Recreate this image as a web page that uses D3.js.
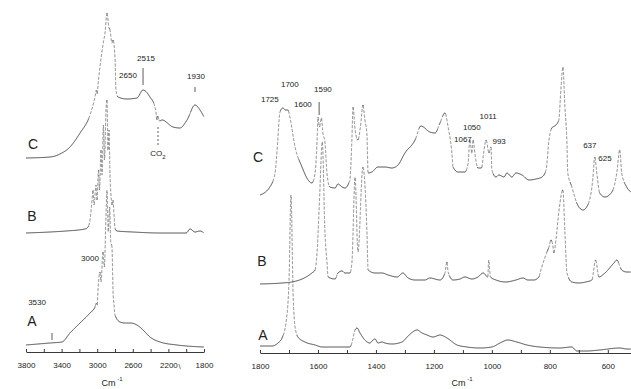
<!DOCTYPE html>
<html lang="en">
<head>
  <meta charset="UTF-8">
  <title>IR spectra A, B, C</title>
  <style>
    body { margin: 0; background: #fff; }
    svg { font-family: "Liberation Sans", Arial, sans-serif; }
    .trace { fill: none; stroke: #333; stroke-width: 0.9px; stroke-linejoin: round; }
    .trace.steep { stroke: #666; stroke-width: 0.8px; stroke-dasharray: 3,1.6; }
    .axis path, .axis line { stroke: #222; stroke-width: 0.9px; }
    .axis text { font-size: 8px; fill: #222; }
    .note { font-size: 8px; fill: #222; text-anchor: middle; dominant-baseline: middle; }
    .letter { font-size: 14px; fill: #222; text-anchor: middle; dominant-baseline: middle; }
    .mark { stroke: #333; stroke-width: 0.8px; }
  </style>
</head>
<body>
  <script src="https://d3js.org/d3.v7.min.js"></script>
  <script>
    // spectra as [wavenumber, absorbance (arbitrary units incl. stacking offset)]
    const leftC = [
      [3800,194],[3530,195],[3418,198],[3306,205],[3193,219],[3081,237],[3025,255],
      [3010,262],[3000,258],[2990,268],[2969,285],[2930,310],[2912,319],[2890,339],
      [2870,325],[2856,322],[2834,309],[2822,312],[2800,294],[2789,262],[2766,255],
      [2665,253],[2553,254],[2485,262],[2407,255],[2351,245],[2340,240],[2330,232],
      [2320,236],[2300,231],[2272,232],[2148,225],[2070,224],[1991,232],[1901,247],
      [1845,242],[1800,235]
    ];
    const leftB = [
      [3800,119],[3530,120],[3350,121],[3137,123],[3103,125],[3081,132],[3058,152],
      [3047,162],[3036,147],[3013,167],[3002,152],[2985,182],[2974,162],[2957,202],
      [2946,177],[2930,227],[2918,192],[2901,242],[2890,252],[2879,202],[2867,222],
      [2856,177],[2845,157],[2834,147],[2822,152],[2811,137],[2800,124],[2778,121],
      [2600,120],[2300,119],[2000,119],[1957,123],[1901,120],[1845,121],[1800,119]
    ];
    const leftA = [
      [3800,7],[3530,9],[3396,10],[3306,19],[3193,29],[3081,39],[3025,45],[3010,49],
      [3000,47],[2991,62],[2969,80],[2957,70],[2935,100],[2920,85],[2900,140],
      [2890,162],[2875,120],[2860,145],[2848,110],[2834,105],[2822,60],[2811,47],
      [2800,37],[2744,30],[2688,29],[2631,29],[2553,27],[2485,22],[2407,15],
      [2294,10],[2103,7],[1800,5]
    ];

    const rightC = [
      [1800,157],[1766,165],[1748,179],[1741,202],[1731,240],[1721,244],[1712,242],
      [1704,242],[1695,232],[1679,205],[1655,185],[1634,172],[1621,169],[1610,179],
      [1603,212],[1600,235],[1595,225],[1588,234],[1583,219],[1576,210],[1569,179],
      [1559,165],[1541,164],[1531,168],[1517,165],[1507,164],[1490,172],[1483,212],
      [1479,245],[1472,222],[1462,212],[1452,229],[1445,247],[1438,232],[1431,217],
      [1427,179],[1414,180],[1393,185],[1369,185],[1345,184],[1324,187],[1300,199],
      [1265,212],[1245,226],[1214,220],[1196,219],[1179,229],[1162,239],[1151,225],
      [1138,199],[1134,185],[1117,180],[1093,180],[1082,189],[1076,212],[1069,199],
      [1065,212],[1058,197],[1048,184],[1036,184],[1027,202],[1020,212],[1010,199],
      [1003,205],[1000,182],[986,175],[976,177],[958,175],[948,179],[931,175],
      [917,179],[896,177],[872,172],[848,173],[827,175],[813,182],[803,212],
      [793,224],[779,227],[769,232],[762,262],[755,285],[748,245],[741,209],
      [738,179],[724,165],[707,149],[686,142],[669,147],[652,172],[645,195],
      [638,179],[628,159],[610,155],[586,160],[569,179],[559,202],[552,179],[535,165],
      [520,160]
    ];
    const rightB = [
      [1800,68],[1724,69],[1690,70],[1655,73],[1621,79],[1610,82],[1603,100],
      [1595,150],[1585,210],[1576,120],[1569,90],[1565,75],[1541,73],[1531,79],
      [1517,81],[1507,79],[1490,79],[1483,89],[1472,175],[1462,100],[1445,185],
      [1431,120],[1427,82],[1403,79],[1379,79],[1358,77],[1327,75],[1307,79],
      [1289,74],[1265,72],[1231,72],[1214,74],[1179,72],[1162,79],[1155,90],
      [1151,80],[1134,72],[1110,73],[1093,75],[1069,73],[1048,75],[1030,79],
      [1014,75],[1011,92],[1005,75],[986,72],[952,70],[917,72],[893,74],[876,72],
      [855,72],[838,75],[831,82],[810,100],[803,105],[796,112],[790,107],[786,99],
      [779,112],[769,140],[755,162],[748,120],[741,79],[724,70],[700,69],[676,70],
      [655,72],[642,92],[631,75],[610,79],[579,89],[569,92],[552,82],[535,80],[520,80]
    ];
    const rightA = [
      [1800,6],[1759,6],[1738,9],[1724,14],[1710,30],[1700,70],[1693,157],[1686,60],
      [1679,25],[1669,15],[1645,10],[1610,7],[1586,5],[1541,5],[1490,5],[1483,9],
      [1472,22],[1465,24],[1455,19],[1438,12],[1421,9],[1410,12],[1403,13],[1393,9],
      [1379,10],[1369,9],[1345,8],[1310,10],[1289,16],[1258,22],[1241,19],[1224,17],
      [1203,15],[1179,17],[1155,14],[1120,7],[1086,5],[1041,4],[1000,5],[972,9],
      [945,12],[914,10],[879,7],[835,5],[766,4],[724,5],[707,1],[672,1],[628,2],
      [559,4],[535,3],[520,3]
    ];

    // peak annotations: [text, wavenumber, absorbance]
    const leftNotes = [["2650",2654,276],["2515",2452,293],["1930",1890,275],["3000",3081,93],["3530",3676,49]];
    const rightNotes = [
      ["1725",1766,252],["1700",1697,267],["1600",1652,247],["1590",1583,262],
      ["1067",1100,212],["1050",1069,224],["1011",1013,235],["993",975,210],
      ["637",662,206],["625",610,193]
    ];
    // marker lines: [wavenumber, from, to]
    const leftMarks = [[2485,284,267],[1901,265,260],[3508,19,12]];
    const rightMarks = [[1596,250,237]];
    const co2Mark = [2317,225,205];

    const leftTicks = d3.range(3800, 1799, -200);
    const rightTicks = d3.range(1800, 519, -100);

    const width = 631, height = 389;
    const svg = d3.select("body").append("svg").attr("width", width).attr("height", height);

    const xLeft = d3.scaleLinear().domain([3800, 1800]).range([26, 204]);
    const xRight = d3.scaleLinear().domain([1800, 520]).range([260, 631]);
    const y = d3.scaleLinear().domain([0, 350]).range([352, 2]);

    // smooth the trace, then split it in runs: steep flanks look broken up like on the scan
    function drawTrace(data, x) {
      const line = d3.line().x(d => x(d[0])).y(d => y(d[1])).curve(d3.curveMonotoneX);
      const tmp = svg.append("path").attr("d", line(data)).attr("fill", "none");
      const node = tmp.node(), total = node.getTotalLength();
      const pts = [];
      for (let s = 0; s <= total; s += 0.6) {
        const p = node.getPointAtLength(s);
        pts.push([p.x, p.y]);
      }
      tmp.remove();
      const runs = [];
      let cur = null;
      for (let i = 1; i < pts.length; i++) {
        const dx = Math.abs(pts[i][0] - pts[i - 1][0]), dy = Math.abs(pts[i][1] - pts[i - 1][1]);
        const steep = dy > 2.5 * dx;
        if (!cur || cur.steep !== steep) {
          cur = {steep, pts: [pts[i - 1]]};
          runs.push(cur);
        }
        cur.pts.push(pts[i]);
      }
      svg.append("g").selectAll("path").data(runs).enter().append("path")
        .attr("class", d => d.steep ? "trace steep" : "trace")
        .attr("d", d => d3.line()(d.pts));
    }
    [leftC, leftB, leftA].forEach(d => drawTrace(d, xLeft));
    [rightC, rightB, rightA].forEach(d => drawTrace(d, xRight));

    // axes
    svg.append("g").attr("class", "axis")
      .attr("transform", `translate(0,${y(0)})`)
      .call(d3.axisBottom(xLeft).tickValues(leftTicks).tickSizeInner(-3).tickSizeOuter(0).tickPadding(10)
        .tickFormat(d => (3800 - d) % 400 === 0 ? d : ""));
    svg.append("g").attr("class", "axis")
      .attr("transform", `translate(0,${y(0) + 1})`)
      .call(d3.axisBottom(xRight).tickValues(rightTicks).tickSizeInner(-3).tickSizeOuter(0).tickPadding(10)
        .tickFormat(d => d % 200 === 0 ? d : ""));
    // little break stroke printed after the 2200 label
    svg.append("text").attr("x", xLeft(2200) + 10).attr("y", y(0) + 17)
      .attr("font-size", 8).attr("fill", "#444").text("\\");

    // axis titles
    function unitTitle(cx) {
      const t = svg.append("text").attr("x", cx).attr("y", 386).attr("font-size", 9).attr("fill", "#222")
        .attr("text-anchor", "middle");
      t.append("tspan").text("Cm");
      t.append("tspan").attr("dy", -5).attr("font-size", 6).text(" -1");
    }
    unitTitle(112);
    unitTitle(462);

    // annotations
    function notes(list, x) {
      svg.selectAll(null).data(list).enter().append("text").attr("class", "note")
        .attr("x", d => x(d[1])).attr("y", d => y(d[2])).text(d => d[0]);
    }
    notes(leftNotes, xLeft);
    notes(rightNotes, xRight);

    function marks(list, x) {
      svg.selectAll(null).data(list).enter().append("line").attr("class", "mark")
        .attr("x1", d => x(d[0])).attr("x2", d => x(d[0]))
        .attr("y1", d => y(d[1])).attr("y2", d => y(d[2]));
    }
    marks(leftMarks, xLeft);
    marks(rightMarks, xRight);
    svg.append("line").attr("class", "mark").attr("stroke-dasharray", "2,2")
      .attr("x1", xLeft(co2Mark[0])).attr("x2", xLeft(co2Mark[0]))
      .attr("y1", y(co2Mark[1])).attr("y2", y(co2Mark[2]));
    const co2 = svg.append("text").attr("class", "note").attr("x", xLeft(2317)).attr("y", y(198));
    co2.append("tspan").text("CO");
    co2.append("tspan").attr("dy", 3).attr("font-size", 6).text("2");

    // trace letters: [letter, wavenumber, absorbance]
    const leftLetters = [["C",3721,207],["B",3733,135],["A",3733,30]];
    const rightLetters = [["C",1807,194],["B",1793,90],["A",1790,16]];
    svg.selectAll(null).data(leftLetters).enter().append("text").attr("class", "letter")
      .attr("x", d => xLeft(d[1])).attr("y", d => y(d[2])).text(d => d[0]);
    svg.selectAll(null).data(rightLetters).enter().append("text").attr("class", "letter")
      .attr("x", d => xRight(d[1])).attr("y", d => y(d[2])).text(d => d[0]);
  </script>
</body>
</html>
